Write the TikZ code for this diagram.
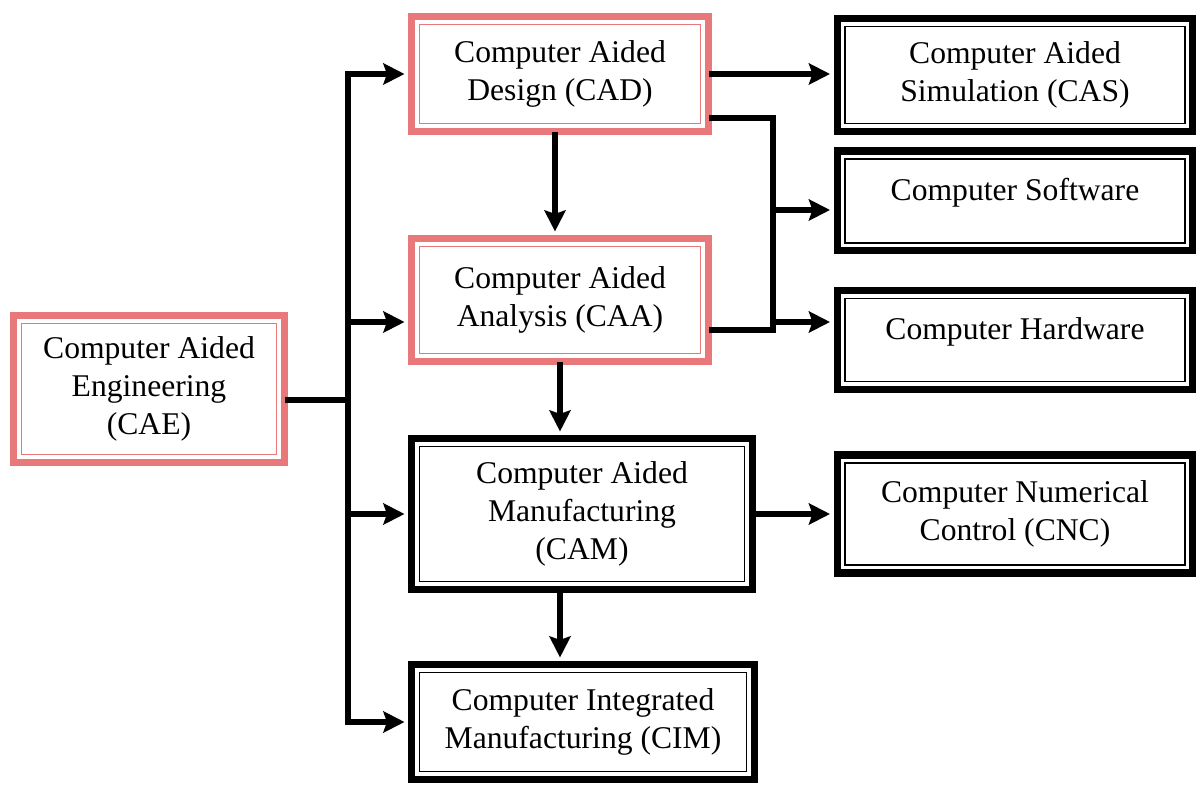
\documentclass[tikz,border=0pt]{standalone}
\usepackage{fontspec}
\setmainfont{Liberation Serif}
\usetikzlibrary{arrows.meta}
\definecolor{boxred}{HTML}{E8787A}

\tikzstyle{block} = [draw=#1, line width=4pt, fill=white, align=center, font={\fontsize{18}{21.6}\selectfont},
  path picture={\draw[#1, line width=1pt] ([shift={(4.5pt,4.5pt)}]path picture bounding box.south west) rectangle ([shift={(-4.5pt,-4.5pt)}]path picture bounding box.north east);}]
\tikzstyle{redblock} = [block=boxred]
\tikzstyle{blackblock} = [block=black]
\tikzstyle{wire} = [line width=3.3pt, line cap=rect]
\tikzstyle{arrow} = [wire, -{Stealth[length=12pt,width=12pt,inset=2pt]}, shorten >=2pt]

\begin{document}
\begin{tikzpicture}[x=0.02cm, y=-0.02cm]
\useasboundingbox (0,0) rectangle (1196,786);

\node [redblock, minimum width=5.42cm, minimum height=2.94cm] (cae) at (149,389) {Computer Aided\\Engineering\\(CAE)};
\node [redblock, minimum width=5.94cm, minimum height=2.30cm] (cad) at (560,74) {Computer Aided\\Design (CAD)};
\node [redblock, minimum width=5.94cm, minimum height=2.46cm] (caa) at (560,300) {Computer Aided\\Analysis (CAA)};
\node [blackblock, minimum width=6.82cm, minimum height=3.02cm] (cam) at (582,514) {Computer Aided\\Manufacturing\\(CAM)};
\node [blackblock, minimum width=6.86cm, minimum height=2.30cm] (cim) at (583,722) {Computer Integrated\\Manufacturing (CIM)};
\node [blackblock, minimum width=7.12cm, minimum height=2.26cm] (cas) at (1015,75) {Computer Aided\\Simulation (CAS)};
\node [blackblock, minimum width=7.12cm, minimum height=2.00cm, text depth=13pt] (soft) at (1015,201) {Computer Software};
\node [blackblock, minimum width=7.12cm, minimum height=1.98cm, text depth=13pt] (hard) at (1015,340) {Computer Hardware};
\node [blackblock, minimum width=7.12cm, minimum height=2.36cm] (cnc) at (1015,514) {Computer Numerical\\Control (CNC)};

% left trunk
\coordinate (trunk) at (348,400);
\draw [wire] ([yshift=-0.22cm]cae.east) -- (trunk);
\draw [wire] (trunk |- cad) -- (trunk |- cim);
\draw [arrow] (trunk |- cad) -- (cad);
\draw [arrow] ([yshift=-0.44cm]trunk |- caa) -- ([yshift=-0.44cm]caa.west);
\draw [arrow] (trunk |- cam) -- (cam);
\draw [arrow] (trunk |- cim) -- (cim);

% down the middle
\draw [arrow] ([xshift=-0.1cm]cad.south) -- ([xshift=-0.1cm]caa.north);
\draw [arrow] (caa.south) -- (caa.south |- cam.north);
\draw [arrow] (caa.south |- cam.south) -- (caa.south |- cim.north);

% right side
\coordinate (bus) at (773,118);
\draw [arrow] (cad) -- (cad -| cas.west);
\draw [wire] ([yshift=-0.88cm]cad.east) -- (bus) -- ([yshift=-0.6cm]bus |- caa.east);
\draw [wire] ([yshift=-0.6cm]caa.east) -- ([yshift=-0.6cm]bus |- caa.east);
\draw [arrow] ([yshift=-0.18cm]bus |- soft) -- ([yshift=-0.18cm]soft.west);
\draw [arrow] ([yshift=0.36cm]bus |- hard) -- ([yshift=0.36cm]hard.west);
\draw [arrow] (cam) -- (cnc);
\end{tikzpicture}
\end{document}
